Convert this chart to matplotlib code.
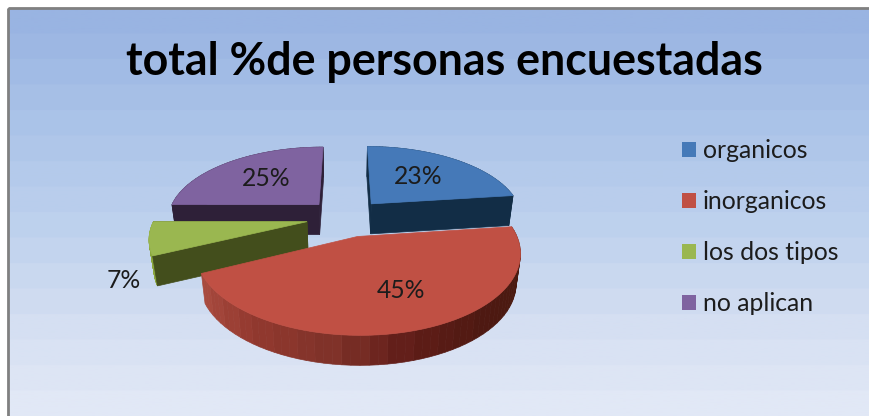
import numpy as np
import matplotlib
matplotlib.use('Agg')
import matplotlib.pyplot as plt
from matplotlib.colors import LinearSegmentedColormap
from matplotlib.patches import Patch, Polygon, Rectangle

plt.rcParams['font.family'] = ['Lato', 'DejaVu Sans']

title = 'total %de personas encuestadas'
categories = ['organicos', 'inorganicos', 'los dos tipos', 'no aplican']
values = [23, 45, 7, 25]

top_colors = ['#4579b8', '#c05044', '#9ab750', '#7f63a0']
dark_colors = ['#122d46', '#4a1a10', '#434e1c', '#2e2038']
rim_stops = [
    ['#122d46', '#122d46'],
    ['#4a1a10', '#4a1a10', '#4e1912', '#5e1c17', '#803229', '#93392f', '#a84a3e'],
    ['#8aa63e', '#8aa63e'],
    ['#2e2038', '#2e2038'],
]
show_cuts = [True, False, True, True]
label_pos = [(418, 177), (401, 290), (124, 281), (266, 179)]

# fake 3d pie, drawn in pixel coords
CX, CY = 346, 217.5
RX, RY = 152, 72.5
K = 0.185
EXPLODE = 0.26
DEPTH = 30
SHRINK = 0.975


def project(u, v):
    f = 1 / (1 - K * v)
    return CX + RX * u * f, CY + RY * v * f


def lower(x, y):
    return CX + (x - CX) * SHRINK, y + DEPTH


fig = plt.figure(figsize=(8.69, 4.16), dpi=100)
ax = fig.add_axes([0, 0, 1, 1])
ax.set_xlim(0, 869)
ax.set_ylim(416, 0)
ax.axis('off')

# banded background
bg = LinearSegmentedColormap.from_list('bg', [
    (0, '#99b4e2'), (0.3, '#adc5e9'), (0.55, '#bfd2ee'), (0.8, '#d5dff2'), (1, '#e1e8f6')], N=16)
ax.imshow(np.linspace(0, 1, 256).reshape(-1, 1), cmap=bg, aspect='auto',
          extent=(8, 869, 416, 8), zorder=0)
ax.set_xlim(0, 869)
ax.set_ylim(416, 0)
ax.add_patch(Rectangle((8, 8), 870, 420, fill=False, ec='#808080', lw=2, zorder=1))

fractions = np.array(values) / sum(values)
starts = np.cumsum(np.r_[0, fractions[:-1]]) * 2 * np.pi
ends = starts + fractions * 2 * np.pi

for i in [3, 0, 2, 1]:
    z = 2 + [3, 0, 2, 1].index(i)
    mid = (starts[i] + ends[i]) / 2
    ou, ov = EXPLODE * np.sin(mid), -EXPLODE * np.cos(mid)
    th = np.linspace(starts[i], ends[i], 61)
    x, y = project(ou + np.sin(th), ov - np.cos(th))
    ax_, ay_ = project(ou, ov)
    x2, y2 = lower(x, y)
    bx, by = lower(ax_, ay_)

    cmap = LinearSegmentedColormap.from_list('rim', rim_stops[i], N=22)
    for j in range(len(th) - 1):
        c = cmap(j / (len(th) - 2))
        ax.add_patch(Polygon([(x[j], y[j]), (x[j + 1], y[j + 1]), (x2[j + 1], y2[j + 1]), (x2[j], y2[j])],
                             fc=c, ec=c, lw=0.5, zorder=z))
    if show_cuts[i]:
        for k in [0, -1]:
            ax.add_patch(Polygon([(ax_, ay_), (x[k], y[k]), (x2[k], y2[k]), (bx, by)],
                                 fc=dark_colors[i], ec=dark_colors[i], lw=0.5, zorder=z))
    ax.add_patch(Polygon(np.c_[np.r_[ax_, x], np.r_[ay_, y]], fc=top_colors[i], ec=top_colors[i],
                         lw=0.5, zorder=z))

for v, (px, py) in zip(values, label_pos):
    ax.text(px, py, f'{v}%', fontsize=17.8, color='#1c1c1c', ha='center', va='center', zorder=10)

ax.text(444, 62, title, fontsize=32.2, fontweight='bold', color='black', ha='center', va='center', zorder=10)

handles = [Patch(fc=c, ec='none') for c in top_colors]
ax.legend(handles, categories, loc='upper left', bbox_to_anchor=(682 / 869, 1 - 139 / 416),
          frameon=False, fontsize=17.8, handlelength=0.56, handleheight=0.56, handletextpad=0.29,
          labelspacing=1.13, labelcolor='#1c1c1c', borderaxespad=0, borderpad=0)

fig.savefig('out.png', dpi=100)
